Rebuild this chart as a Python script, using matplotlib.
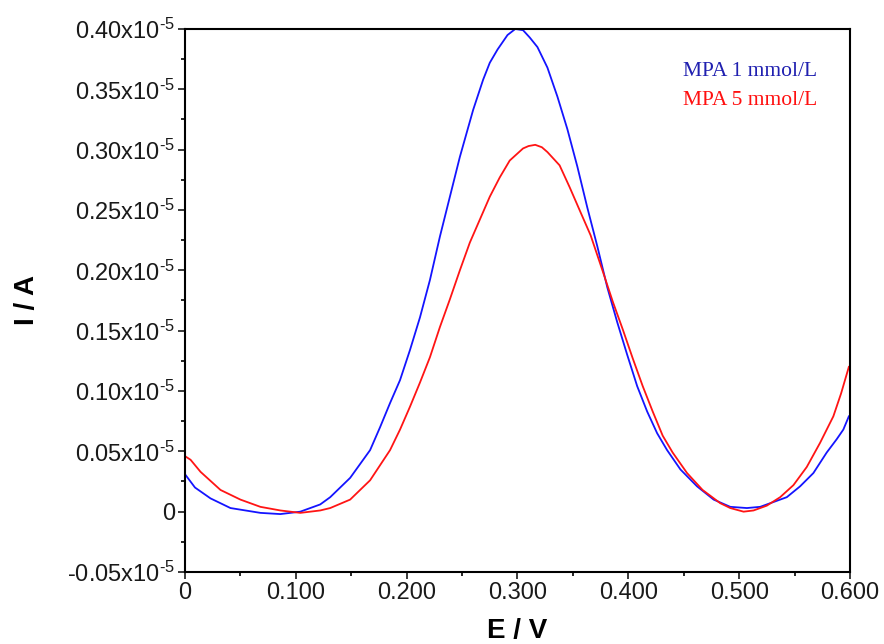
import matplotlib
matplotlib.use('Agg')
import matplotlib.pyplot as plt
from matplotlib.ticker import MultipleLocator, FixedLocator

# MPA 1 mmol/L (blue)
e_1 = [0.000, 0.009, 0.023, 0.041, 0.068, 0.086, 0.104, 0.122, 0.131, 0.149, 0.167, 0.176,
       0.185, 0.194, 0.203, 0.212, 0.221, 0.230, 0.239, 0.248, 0.260, 0.269, 0.275, 0.282,
       0.291, 0.298, 0.305, 0.311, 0.318, 0.327, 0.336, 0.345, 0.354, 0.363, 0.372, 0.381,
       0.390, 0.399, 0.408, 0.417, 0.426, 0.435, 0.447, 0.462, 0.477, 0.492, 0.507, 0.519,
       0.531, 0.543, 0.555, 0.567, 0.579, 0.588, 0.594, 0.599]
i_1 = [0.031, 0.020, 0.011, 0.003, -0.001, -0.002, 0.000, 0.006, 0.012, 0.028, 0.051, 0.070,
       0.090, 0.109, 0.134, 0.161, 0.192, 0.228, 0.261, 0.294, 0.333, 0.358, 0.372, 0.383,
       0.395, 0.400, 0.399, 0.393, 0.385, 0.368, 0.344, 0.317, 0.286, 0.252, 0.220, 0.186,
       0.157, 0.130, 0.104, 0.083, 0.065, 0.051, 0.035, 0.021, 0.010, 0.004, 0.003, 0.004,
       0.008, 0.012, 0.021, 0.032, 0.049, 0.060, 0.068, 0.079]

# MPA 5 mmol/L (red)
e_5 = [0.000, 0.005, 0.014, 0.032, 0.050, 0.068, 0.086, 0.104, 0.122, 0.131, 0.149, 0.167,
       0.185, 0.194, 0.203, 0.212, 0.221, 0.230, 0.239, 0.248, 0.257, 0.266, 0.275, 0.284,
       0.293, 0.305, 0.310, 0.316, 0.322, 0.327, 0.338, 0.347, 0.356, 0.366, 0.377, 0.386,
       0.395, 0.404, 0.413, 0.422, 0.431, 0.440, 0.453, 0.467, 0.483, 0.492, 0.504, 0.513,
       0.525, 0.537, 0.549, 0.561, 0.573, 0.585, 0.592, 0.599]
i_5 = [0.046, 0.043, 0.033, 0.018, 0.010, 0.004, 0.001, -0.001, 0.001, 0.003, 0.010, 0.026,
       0.051, 0.068, 0.087, 0.107, 0.128, 0.153, 0.176, 0.200, 0.223, 0.242, 0.261, 0.277,
       0.291, 0.301, 0.303, 0.304, 0.302, 0.298, 0.287, 0.269, 0.250, 0.229, 0.199, 0.174,
       0.151, 0.127, 0.104, 0.083, 0.063, 0.049, 0.032, 0.018, 0.007, 0.003, 0.000, 0.001,
       0.005, 0.012, 0.022, 0.037, 0.057, 0.079, 0.098, 0.120]

x_ticks = [0.0, 0.1, 0.2, 0.3, 0.4, 0.5, 0.6]
x_labels = ['0', '0.100', '0.200', '0.300', '0.400', '0.500', '0.600']
y_ticks = [-0.05, 0.0, 0.05, 0.10, 0.15, 0.20, 0.25, 0.30, 0.35, 0.40]
y_labels = ['-0.05x10$^{\\text{-5}}$', '0', '0.05x10$^{\\text{-5}}$', '0.10x10$^{\\text{-5}}$',
            '0.15x10$^{\\text{-5}}$', '0.20x10$^{\\text{-5}}$', '0.25x10$^{\\text{-5}}$',
            '0.30x10$^{\\text{-5}}$', '0.35x10$^{\\text{-5}}$', '0.40x10$^{\\text{-5}}$']

plt.rcParams['font.family'] = ['Liberation Sans', 'DejaVu Sans']
plt.rcParams['mathtext.fontset'] = 'custom'
plt.rcParams['mathtext.rm'] = 'Liberation Sans'
plt.rcParams['mathtext.it'] = 'Liberation Sans'

fig = plt.figure(figsize=(8.84, 6.44), dpi=100)
ax = fig.add_axes([0.2093, 0.1118, 0.7522, 0.8432])

ax.plot(e_1, i_1, color='#1414ff', lw=1.3)
ax.plot(e_5, i_5, color='#ff1414', lw=1.3)

ax.set_xlim(0, 0.6)
ax.set_ylim(-0.05, 0.40)
ax.xaxis.set_major_locator(FixedLocator(x_ticks))
ax.set_xticklabels(x_labels)
ax.xaxis.set_minor_locator(MultipleLocator(0.05))
ax.yaxis.set_major_locator(FixedLocator(y_ticks))
ax.set_yticklabels(y_labels)
ax.yaxis.set_minor_locator(MultipleLocator(0.025))

ax.tick_params(which='major', direction='out', length=5, width=1.2, labelsize=17,
               colors='#1a1a1a', pad=2)
ax.tick_params(which='minor', direction='out', length=3, width=1.2)
ax.tick_params(top=False, right=False, which='both')
for s in ax.spines.values():
    s.set_linewidth(1.5)

ax.set_xlabel('E / V', fontsize=20, fontweight='bold')
ax.set_ylabel('I / A', fontsize=20, fontweight='bold')
ax.xaxis.set_label_coords(0.5, -0.085)
ax.yaxis.set_label_coords(-0.218, 0.5)

ax.text(0.449, 0.361, 'MPA 1 mmol/L', color='#2020b0', fontsize=15.5,
        family='Liberation Serif', va='baseline')
ax.text(0.449, 0.337, 'MPA 5 mmol/L', color='#ff1010', fontsize=15.5,
        family='Liberation Serif', va='baseline')

fig.savefig('out.png', dpi=100)
